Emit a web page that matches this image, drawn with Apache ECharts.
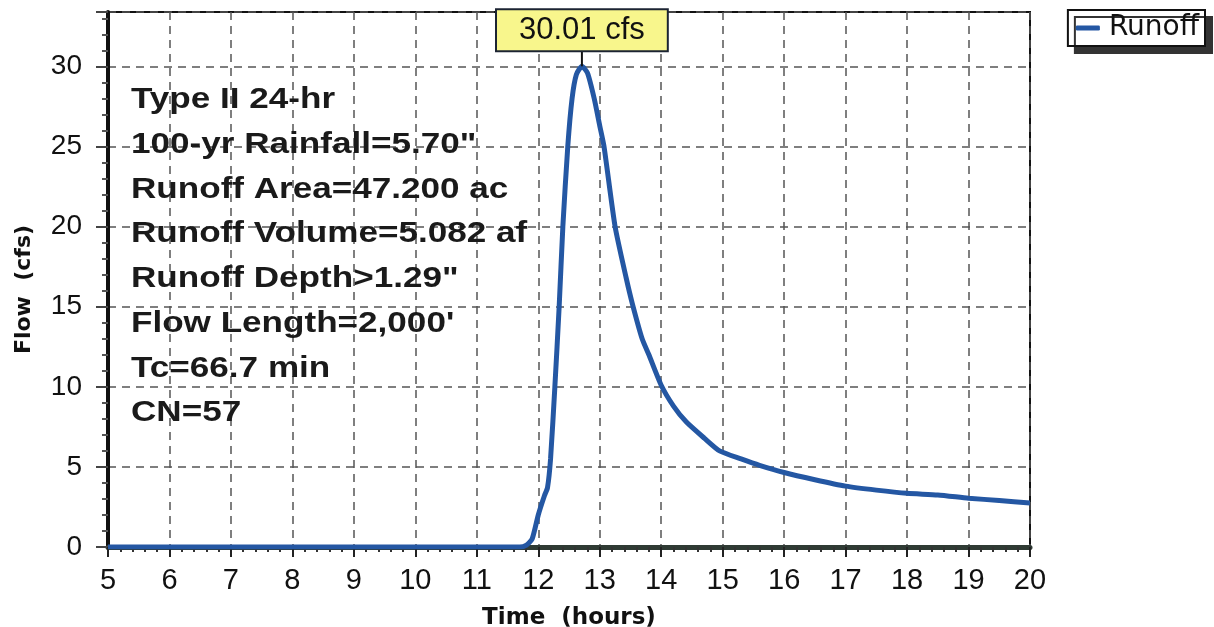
<!DOCTYPE html>
<html>
<head>
<meta charset="utf-8">
<script src="https://cdn.jsdelivr.net/npm/echarts@6/dist/echarts.min.js"></script>
<style>
  html, body { margin: 0; padding: 0; background: #fff; }
  #chart { width: 1214px; height: 627px; }
</style>
</head>
<body>
<div id="chart"></div>
<script>
// hydrograph time (hours) and runoff flow (cfs)
var hours = [5, 11.7, 11.8, 11.9, 12.0, 12.1, 12.15, 12.2, 12.27, 12.34, 12.4, 12.48, 12.55, 12.62, 12.71,
  12.8, 12.91, 13.0, 13.07, 13.25, 13.43, 13.53, 13.69, 13.8, 14.0, 14.2, 14.41, 14.7, 14.95,
  15.3, 15.6, 16.0, 16.5, 17.0, 17.5, 18.0, 18.5, 19.0, 19.5, 20.0]
var flow = [0, 0, 0.1, 0.5, 2.0, 3.2, 3.7, 5.5, 10, 15, 20, 25, 28, 29.5, 30.01,
  29.6, 28.0, 26.3, 25, 20, 16.8, 15.2, 13.0, 12.0, 10.1, 8.8, 7.8, 6.8, 6.0,
  5.5, 5.1, 4.65, 4.2, 3.8, 3.55, 3.35, 3.25, 3.05, 2.9, 2.75]
var infoLines = ['Type II 24-hr', '100-yr Rainfall=5.70"', 'Runoff Area=47.200 ac', 'Runoff Volume=5.082 af',
  'Runoff Depth>1.29"', "Flow Length=2,000'", 'Tc=66.7 min', 'CN=57']
var peakLabel = '30.01 cfs'

var font = "'Liberation Sans', Arial, sans-serif"
var wideFont = "'DejaVu Sans', 'Liberation Sans', sans-serif"
var chart = echarts.init(document.getElementById('chart'))
var points = hours.map(function (h, i) { return [h, flow[i]] })

var option = {
  animation: false,
  grid: {
    left: 108, right: 184, top: 12, bottom: 80,
    outerBoundsMode: 'none',
    show: true, borderColor: '#111', borderWidth: 2
  },
  legend: {
    right: 9, top: 10,
    data: ['Runoff'],
    icon: 'roundRect',
    itemWidth: 24, itemHeight: 5,
    padding: [4, 6, 4, 8],
    backgroundColor: '#fff',
    borderColor: '#111', borderWidth: 2,
    shadowColor: '#333', shadowBlur: 0, shadowOffsetX: 7, shadowOffsetY: 7,
    textStyle: { fontFamily: wideFont, fontSize: 28, color: '#111', padding: [0, 0, 0, 4] }
  },
  xAxis: {
    type: 'value', min: 5, max: 20, interval: 1,
    name: 'Time  (hours)', nameLocation: 'middle', nameGap: 60,
    nameTextStyle: { fontFamily: wideFont, fontSize: 23, fontWeight: 'bold', color: '#111' },
    axisLine: { lineStyle: { color: '#2f3b34', width: 5 } },
    axisTick: { length: 10, lineStyle: { color: '#222', width: 2 } },
    minorTick: { show: true, splitNumber: 5, length: 5, lineStyle: { color: '#333', width: 2 } },
    axisLabel: { margin: 19, fontFamily: font, fontSize: 29, color: '#111' },
    splitLine: { show: true, lineStyle: { color: '#555', type: [8, 6], width: 1.5 } }
  },
  yAxis: {
    type: 'value', min: 0, max: 33.4, interval: 5,
    name: 'Flow  (cfs)', nameLocation: 'middle', nameGap: 73,
    nameTextStyle: { fontFamily: wideFont, fontSize: 22, fontWeight: 'bold', color: '#111', padding: [0, 0, 0, -20] },
    axisLine: { show: true, lineStyle: { color: '#111', width: 4 } },
    axisTick: { show: true, length: 12, lineStyle: { color: '#444', width: 2 } },
    minorTick: { show: true, splitNumber: 5, length: 6, lineStyle: { color: '#555', width: 2 } },
    axisLabel: { margin: 26, fontFamily: font, fontSize: 28, color: '#111',
      showMaxLabel: false },
    splitLine: { show: true, lineStyle: { color: '#555', type: [8, 6], width: 1.5 } }
  },
  graphic: [{
    type: 'text',
    x: 131, y: 78,
    scaleX: 1.21,
    z: 10,
    style: {
      text: infoLines.join('\n'),
      font: 'bold 29px ' + font,
      lineHeight: 44.7,
      verticalAlign: 'top',
      fill: '#1a1a1a'
    }
  }],
  series: [{
    name: 'Runoff',
    type: 'line',
    data: points,
    showSymbol: false,
    smooth: 0.2,
    color: '#2457a3',
    lineStyle: { width: 5, color: '#2457a3' },
    markPoint: {
      symbol: 'rect',
      symbolSize: [2, 16],
      symbolOffset: [0, -8],
      itemStyle: { color: '#111' },
      label: {
        show: true, position: 'top', distance: 0,
        formatter: peakLabel,
        fontFamily: font, fontSize: 31, color: '#111',
        backgroundColor: '#f8f68c',
        borderColor: '#1c2433', borderWidth: 2,
        padding: [5, 22, 4, 22]
      },
      data: [{ type: 'max' }]
    }
  }]
}

chart.setOption(option)
</script>
</body>
</html>
